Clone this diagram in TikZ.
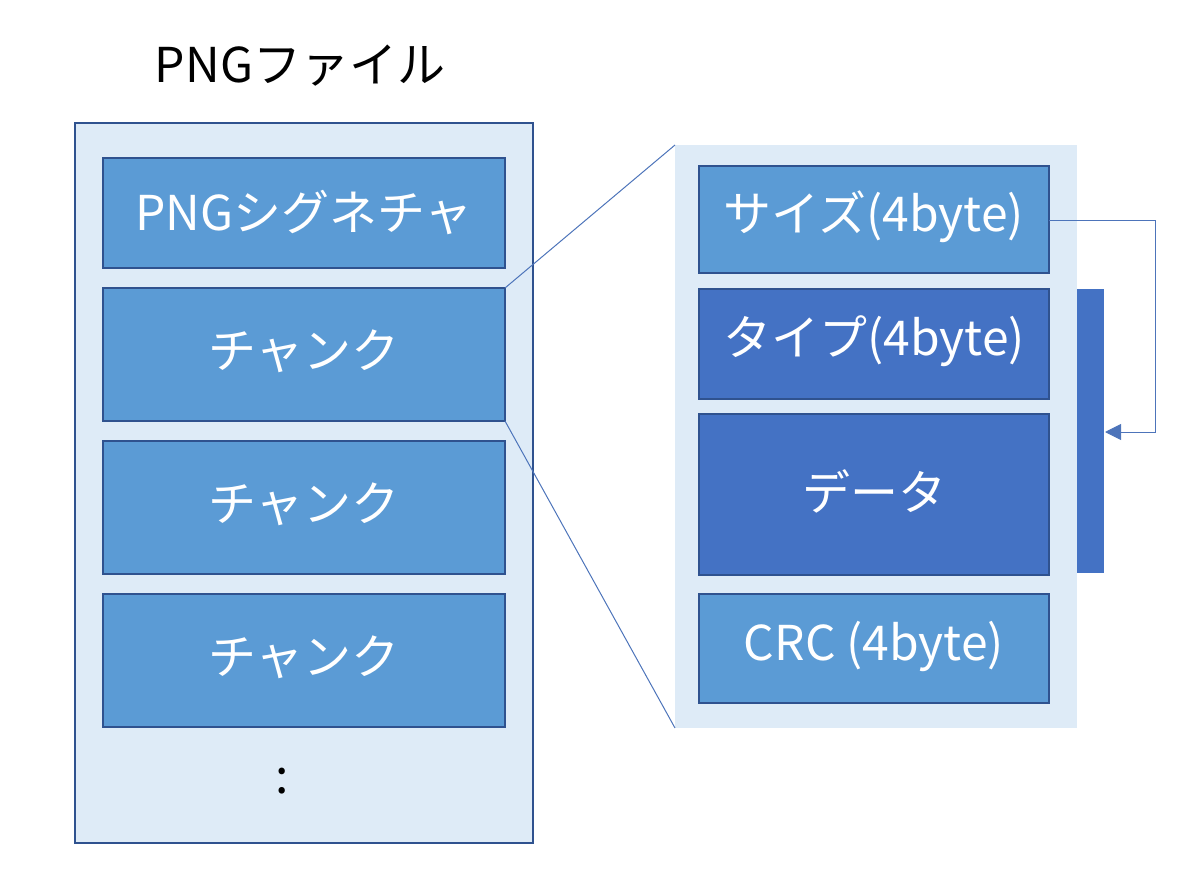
\documentclass[tikz,border=0pt]{standalone}
\usepackage{fontspec}
\setmainfont{Noto Sans CJK JP}
\usetikzlibrary{arrows.meta}
\definecolor{pale}{HTML}{DEEBF7}
\definecolor{mid}{HTML}{5B9BD5}
\definecolor{deep}{HTML}{4472C4}
\definecolor{edge}{HTML}{2F528F}
\tikzset{
  blk/.style={draw=edge, line width=2.2pt},
  intext/.style={text=white, font=\fontsize{48}{54}\selectfont},
  lbl/.style={font=\fontsize{48}{54}\selectfont, text=black},
  link/.style={draw=deep!85!gray, line width=1pt},
}
\begin{document}
\begin{tikzpicture}[x=1pt,y=-1pt]
\useasboundingbox (0,0) rectangle (1200,880);
% title
\node[lbl] (title) at (300,66) {PNGファイル};
% outer left box
\draw[fill=pale, draw=edge, line width=2.2pt] (75,123) rectangle (533,843);
% left inner blocks
\path[blk, fill=mid] (103,158) rectangle (505,268);
\node[intext] (sig) at (304,212) {PNGシグネチャ};
\path[blk, fill=mid] (103,288) rectangle (505,421);
\coordinate (c1tr) at (505,288);
\coordinate (c1br) at (505,421);
\node[intext] (ch1) at (304,351) {チャンク};
\path[blk, fill=mid] (103,441) rectangle (505,574);
\node[intext] (ch2) at (304,504) {チャンク};
\path[blk, fill=mid] (103,594) rectangle (505,727);
\node[intext] (ch3) at (304,657) {チャンク};
\node[lbl] (dots) at (282,781) {:};
% right panel
\fill[pale] (675,145) rectangle (1077,728);
\coordinate (ptl) at (675,145);
\coordinate (pbl) at (675,728);
\draw[link] (c1tr) -- (ptl);
\draw[link] (c1br) -- (pbl);
% right blocks
\path[blk, fill=mid] (699,166) rectangle (1049,273);
\node[intext] (size) at (874,217) {サイズ(4byte)};
\coordinate (sizeR) at (1049,220);
\path[blk, fill=deep] (699,289) rectangle (1049,399);
\node[intext] (type) at (874,341) {タイプ(4byte)};
\path[blk, fill=deep] (699,414) rectangle (1049,575);
\node[intext] (data) at (874,491) {データ};
\path[blk, fill=mid] (699,594) rectangle (1049,703);
\node[intext] (crc) at (874,646) {CRC (4byte)};
% bar
\fill[deep] (1077,289) rectangle (1104,573);
\coordinate (barR) at (1105,432);
% arrow
\draw[link, -{Triangle[length=16pt,width=16pt]}] (sizeR) -- (1155,220) -- (1155,432) -- (barR);
\end{tikzpicture}
\end{document}
